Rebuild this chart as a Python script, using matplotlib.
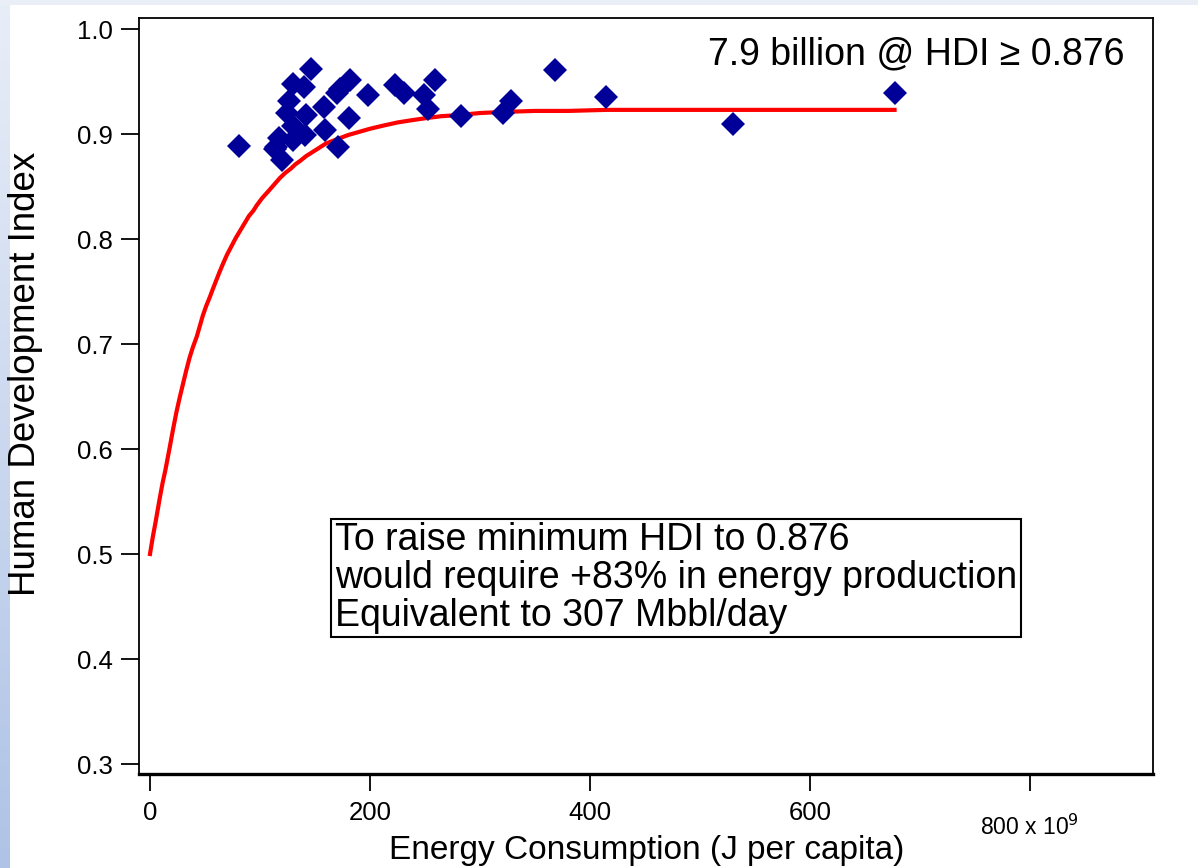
import numpy as np
import matplotlib
matplotlib.use("Agg")
import matplotlib.pyplot as plt
from matplotlib.transforms import blended_transform_factory
from matplotlib.colors import LinearSegmentedColormap

plt.rcParams['font.family'] = ['Liberation Sans', 'DejaVu Sans']

# ---- data ----
energy = [81, 115, 114, 120, 130, 126, 125, 130, 140, 146, 142, 141, 117, 130,
          158, 159, 171, 170, 173, 182, 181, 198, 223, 231, 249, 253, 259, 283,
          321, 328, 368, 415, 530, 677]
hdi = [0.889, 0.888, 0.886, 0.875, 0.948, 0.931, 0.920, 0.908, 0.945, 0.962, 0.918, 0.899, 0.896, 0.894,
       0.926, 0.904, 0.888, 0.939, 0.943, 0.951, 0.915, 0.937, 0.947, 0.939, 0.937, 0.924, 0.951, 0.917,
       0.920, 0.931, 0.961, 0.935, 0.910, 0.939]

fit_x = [0, 2.5, 5, 7, 9, 11.5, 14, 16, 18, 21, 24, 27, 30, 33, 36, 39, 42.5, 45, 48, 51, 54.5,
         57, 60, 63, 66.6, 70, 74, 78, 82, 86, 90, 94, 97, 102, 108, 113, 118, 123, 128, 132,
         136, 142, 148, 154, 160, 170, 180, 190, 200, 212, 225, 237, 250, 265, 280, 300, 320,
         350, 380, 415, 450, 500, 550, 610, 677]
fit_y = [0.500, 0.516, 0.530, 0.542, 0.554, 0.568, 0.580, 0.591, 0.602, 0.619, 0.635, 0.649,
         0.662, 0.675, 0.687, 0.697, 0.707, 0.716, 0.727, 0.736, 0.745, 0.752, 0.760, 0.768,
         0.777, 0.785, 0.793, 0.801, 0.808, 0.815, 0.822, 0.827, 0.832, 0.839, 0.846, 0.852,
         0.858, 0.863, 0.867, 0.871, 0.874, 0.879, 0.883, 0.887, 0.891, 0.895, 0.899, 0.902,
         0.905, 0.908, 0.911, 0.913, 0.915, 0.917, 0.918, 0.920, 0.921, 0.922, 0.922, 0.923,
         0.923, 0.923, 0.923, 0.923, 0.923]

xticks = [0, 200, 400, 600, 800]
xticklabels = ['0', '200', '400', '600', '']
yticks = [0.3, 0.4, 0.5, 0.6, 0.7, 0.8, 0.9, 1.0]

W, H = 1198, 868
fig = plt.figure(figsize=(W / 100, H / 100), dpi=100)
fig.patch.set_facecolor('white')

# slide background gradient strips
bg = fig.add_axes([0, 0, 1, 1], zorder=-10)
bg.set_axis_off()
bg.set_xlim(0, W)
bg.set_ylim(H, 0)
grad = np.linspace(0, 1, 256).reshape(-1, 1)
cm = LinearSegmentedColormap.from_list('slide', ['#e8eef8', '#afc3e6'])
bg.imshow(grad, extent=[0, 10, H, 0], cmap=cm, aspect='auto')
bg.add_patch(plt.Rectangle((0, 0), W, 5, color='#e9eef7', lw=0))

ax = fig.add_axes([139 / W, 1 - 774 / H, (1153 - 139) / W, (774 - 18) / H])
ax.set_xlim(-10, 912)
ax.set_ylim(0.2905, 1.0105)

ax.plot(fit_x, fit_y, color='#ff0000', lw=3.0, zorder=2, solid_joinstyle='round')
ax.plot(energy, hdi, linestyle='none', marker='D', ms=12.5, color='#000099',
        markeredgewidth=0, zorder=3)

for s in ['left', 'top', 'right']:
    ax.spines[s].set_linewidth(1.3)
ax.spines['bottom'].set_linewidth(2.4)

ax.set_xticks(xticks)
ax.set_xticklabels(xticklabels)
ax.set_yticks(yticks)
ax.set_yticklabels([f'{v:.1f}' for v in yticks])
ax.tick_params(axis='y', direction='out', length=13, width=1.3, pad=6, labelsize=18.5)
ax.tick_params(axis='x', direction='out', length=12.5, width=1.3, pad=7, labelsize=18.5)

tr = blended_transform_factory(ax.transData, fig.transFigure)
ax.text(800, 1 - 827 / H, r'800 x 10$^{9}$', transform=tr, ha='center', va='center',
        fontsize=16.5)

fig.text(647 / W, 1 - 851 / H, 'Energy Consumption (J per capita)', ha='center', va='center',
         fontsize=24)
fig.text(26 / W, 1 - 374 / H, 'Human Development Index', ha='center', va='center',
         rotation=90, fontsize=26.5)

ax.text(0.972, 0.952, '7.9 billion @ HDI \u2265 0.876', transform=ax.transAxes,
        ha='right', va='center', fontsize=27)

ax.text(0.193, 0.333,
        'To raise minimum HDI to 0.876\nwould require +83% in energy production\nEquivalent to 307 Mbbl/day',
        transform=ax.transAxes, ha='left', va='top', fontsize=27, linespacing=1.06,
        bbox=dict(boxstyle='square,pad=0.1', facecolor='white', edgecolor='black', linewidth=1.5))

fig.savefig('out.png', dpi=100, facecolor='white')
